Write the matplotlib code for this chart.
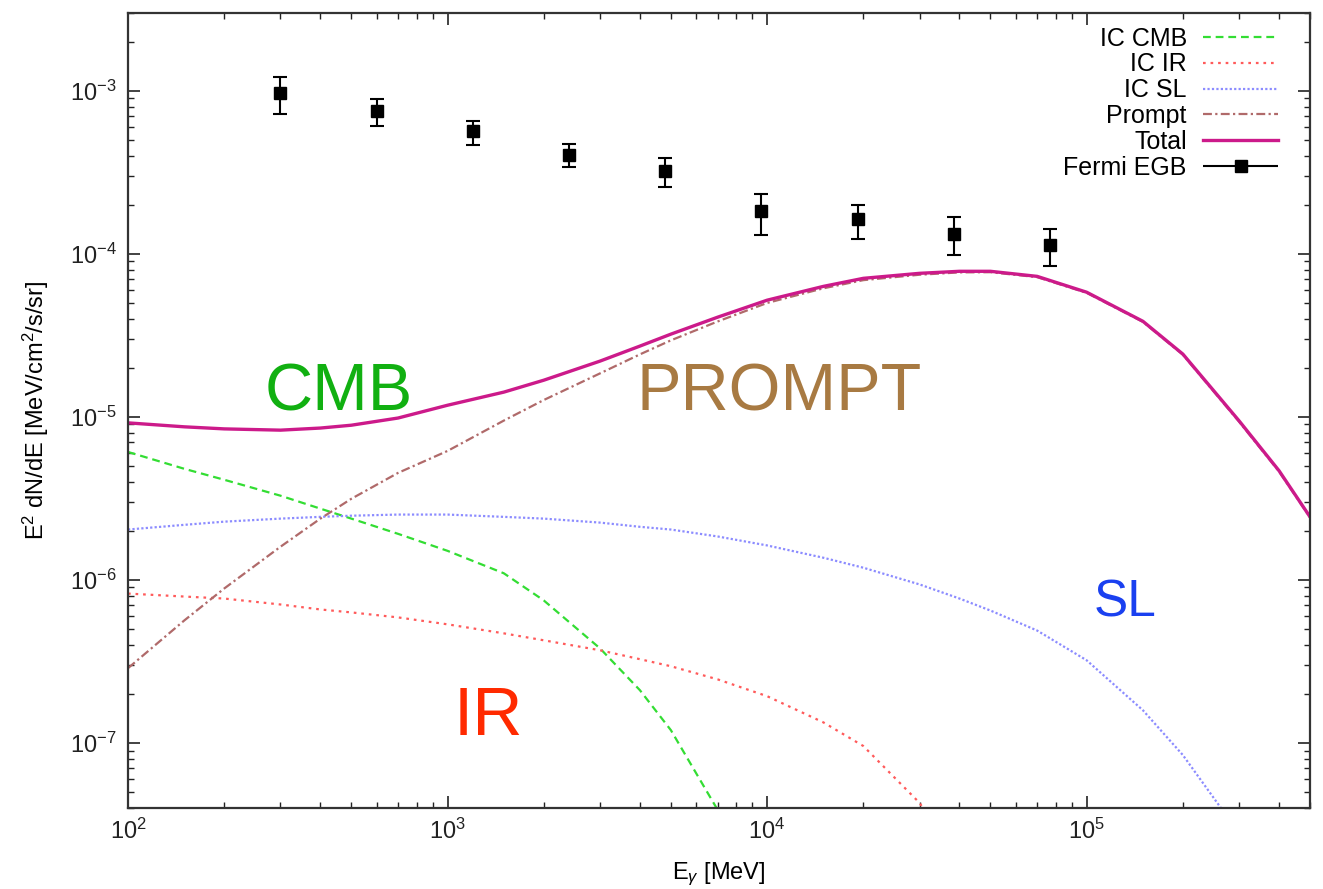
import numpy as np
import matplotlib
matplotlib.use("Agg")
import matplotlib.pyplot as plt
from matplotlib.legend_handler import HandlerErrorbar

plt.rcParams['font.family'] = ['Liberation Sans', 'DejaVu Sans']
plt.rcParams['mathtext.fontset'] = 'custom'
plt.rcParams['mathtext.rm'] = 'Liberation Sans'
plt.rcParams['mathtext.it'] = 'Liberation Sans:italic'

# model curves (energy grid in MeV, E^2 dN/dE in MeV/cm^2/s/sr)
energy = [100, 150, 200, 300, 400, 500, 700, 1000, 1500, 2000, 3000, 4000, 5000, 7000,
          1e4, 1.5e4, 2e4, 3e4, 4e4, 5e4, 7e4, 1e5, 1.5e5, 2e5, 3e5, 4e5, 5e5]

total = [9.2e-6, 8.7e-6, 8.45e-6, 8.3e-6, 8.55e-6, 8.9e-6, 9.85e-6, 1.18e-5, 1.42e-5, 1.68e-5,
         2.2e-5, 2.72e-5, 3.22e-5, 4.09e-5, 5.2e-5, 6.32e-5, 7.08e-5, 7.6e-5, 7.82e-5, 7.82e-5,
         7.28e-5, 5.82e-5, 3.86e-5, 2.43e-5, 9.46e-6, 4.68e-6, 2.44e-6]

prompt = [2.88e-7, 5.65e-7, 8.87e-7, 1.6e-6, 2.38e-6, 3.15e-6, 4.54e-6, 6.19e-6, 9.5e-6, 1.27e-5,
          1.85e-5, 2.42e-5, 2.95e-5, 3.85e-5, 5.0e-5, 6.15e-5, 6.9e-5, 7.45e-5, 7.7e-5, 7.72e-5,
          7.2e-5, 5.77e-5, 3.83e-5, 2.41e-5, 9.35e-6, 4.63e-6, 2.42e-6]

e_cmb = [100, 150, 200, 300, 400, 500, 700, 1000, 1500, 2000, 3000, 4000, 5000, 7000, 1e4]
ic_cmb = [6.1e-6, 4.81e-6, 4.12e-6, 3.29e-6, 2.74e-6, 2.38e-6, 1.92e-6, 1.51e-6, 1.10e-6, 7.5e-7,
          3.81e-7, 2.11e-7, 1.2e-7, 3.9e-8, 8e-9]

e_ir = [100, 150, 200, 300, 400, 500, 700, 1000, 1500, 2000, 3000, 4000, 5000, 7000,
        1e4, 1.5e4, 2e4, 3e4, 4e4]
ic_ir = [8.26e-7, 7.92e-7, 7.7e-7, 7.08e-7, 6.6e-7, 6.33e-7, 5.9e-7, 5.35e-7, 4.71e-7, 4.27e-7,
         3.71e-7, 3.27e-7, 2.96e-7, 2.46e-7, 1.94e-7, 1.34e-7, 9.6e-8, 4.3e-8, 1.8e-8]

e_sl = [100, 150, 200, 300, 400, 500, 700, 1000, 1500, 2000, 3000, 4000, 5000, 7000,
        1e4, 1.5e4, 2e4, 3e4, 4e4, 5e4, 7e4, 1e5, 1.5e5, 2e5, 3e5]
ic_sl = [2.04e-6, 2.18e-6, 2.28e-6, 2.38e-6, 2.44e-6, 2.48e-6, 2.52e-6, 2.52e-6, 2.44e-6, 2.38e-6,
         2.25e-6, 2.12e-6, 2.04e-6, 1.85e-6, 1.63e-6, 1.37e-6, 1.19e-6, 9.4e-7, 7.7e-7, 6.5e-7,
         4.9e-7, 3.22e-7, 1.59e-7, 8.45e-8, 2.8e-8]

# Fermi EGB points
fermi_e = [300, 600, 1200, 2400, 4800, 9600, 19200, 38400, 76800]
fermi_flux = [9.68e-4, 7.47e-4, 5.64e-4, 4.06e-4, 3.21e-4, 1.83e-4, 1.63e-4, 1.33e-4, 1.14e-4]
fermi_hi = [1.21e-3, 8.9e-4, 6.55e-4, 4.74e-4, 3.88e-4, 2.34e-4, 1.99e-4, 1.69e-4, 1.43e-4]
fermi_lo = [7.2e-4, 6.05e-4, 4.66e-4, 3.4e-4, 2.56e-4, 1.31e-4, 1.23e-4, 9.8e-5, 8.4e-5]

fig = plt.figure(figsize=(13.23, 8.89), dpi=100)
ax = fig.add_axes([128 / 1323, 81 / 889, 1182 / 1323, 795 / 889])

ax.plot(e_cmb, ic_cmb, color='#33dd33', lw=1.6, ls=(0, (3.5, 2.2)), label='IC CMB')
ax.plot(e_ir, ic_ir, color='#ff5a5a', lw=1.6, ls=(0, (1.2, 2.2)), label='IC IR')
ax.plot(e_sl, ic_sl, color='#8c8cff', lw=1.6, ls=(0, (1.0, 1.0)), label='IC SL')
ax.plot(energy, prompt, color='#b06a6a', lw=1.6, ls=(0, (4, 1.5, 1, 1.5)), label='Prompt')
ax.plot(energy, total, color='#cc1a8a', lw=2.4, label='Total')

flux = np.array(fermi_flux)
yerr = [flux - np.array(fermi_lo), np.array(fermi_hi) - flux]
ax.errorbar(fermi_e, fermi_flux, yerr=yerr, fmt='s', color='black', ms=8.5,
            elinewidth=1.5, capsize=5, capthick=1.5)
# legend entry drawn gnuplot-style with horizontal bar
proxy = ax.errorbar([], [], xerr=[], fmt='s', color='black', ms=8.5,
                    elinewidth=1.5, capsize=5, capthick=1.5, label='Fermi EGB')

ax.set_xscale('log')
ax.set_yscale('log')
ax.set_xlim(100, 5e5)
ax.set_ylim(4e-8, 3e-3)

ax.tick_params(which='both', direction='in', top=True, right=True, labelsize=17,
               colors='#222222')
ax.tick_params(which='major', length=8.5, width=1.2, pad=8)
ax.tick_params(which='minor', length=4.5, width=1.0)
for s in ax.spines.values():
    s.set_linewidth(1.6)
    s.set_color('#333333')

ax.set_xlabel(r'E$_\gamma$ [MeV]', fontsize=17, labelpad=12)
ax.set_ylabel(r'E$^2$ dN/dE [MeV/cm$^2$/s/sr]', fontsize=17, labelpad=14)

ax.legend(loc='upper right', bbox_to_anchor=(0.973, 0.983), frameon=False,
          markerfirst=False, fontsize=18, handlelength=3.0, handletextpad=0.65,
          labelspacing=0.076, borderpad=0, borderaxespad=0,
          handler_map={type(proxy): HandlerErrorbar(xerr_size=1.5)})

ax.text(456, 1.4e-5, 'CMB', color='#11b011', fontsize=48, ha='center', va='center')
ax.text(1.09e4, 1.4e-5, 'PROMPT', color='#a87a42', fontsize=48, ha='center', va='center')
ax.text(1.32e5, 7.2e-7, 'SL', color='#1a40f0', fontsize=37, ha='center', va='center')
ax.text(1.34e3, 1.44e-7, 'IR', color='#ff2a00', fontsize=50, ha='center', va='center')

fig.savefig('out.png', dpi=100)
